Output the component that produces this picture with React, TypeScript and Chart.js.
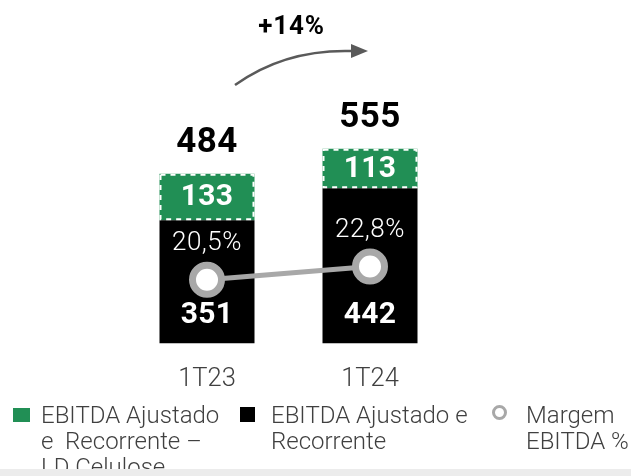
import React, { useEffect, useRef } from "react";
import { Chart, registerables } from "chart.js";

Chart.register(...registerables);

const categories = ["1T23", "1T24"];
const recorrente = [351, 442];
const celulose = [133, 113];
const margem = [20.5, 22.8];
const growthLabel = "+14%";
const legendCelulose = ["EBITDA Ajustado", "e\u00a0 Recorrente \u2013", "LD Celulose"];
const legendRecorrente = ["EBITDA Ajustado e", "Recorrente"];
const legendMargem = ["Margem", "EBITDA %"];

const GREEN = "#218f55";
const GRAY = "#a8a8a8";
const TEXT = "#404040";
const FONT = "Roboto, 'Noto Sans', sans-serif";

const fmtPct = (v: number) => v.toFixed(1).replace(".", ",") + "%";

const labelsPlugin = {
  id: "customLabels",
  afterDatasetsDraw(chart: any) {
    const ctx = chart.ctx;
    const blackMeta = chart.getDatasetMeta(0);
    const greenMeta = chart.getDatasetMeta(1);
    const lineMeta = chart.getDatasetMeta(2);
    const area = chart.chartArea;
    ctx.save();
    // dashed borders around green segments
    greenMeta.data.forEach((el: any) => {
      const w = el.width;
      const left = el.x - w / 2;
      const top = el.y;
      const h = el.base - el.y;
      ctx.strokeStyle = "#ffffff";
      ctx.lineWidth = 2;
      ctx.setLineDash([5, 5]);
      ctx.strokeRect(left + 1, top + 1, w - 2, h - 2);
    });
    ctx.setLineDash([]);
    ctx.textAlign = "center";
    categories.forEach((_, i) => {
      const b = blackMeta.data[i] as any;
      const g = greenMeta.data[i] as any;
      ctx.fillStyle = "#ffffff";
      ctx.font = `bold 30px ${FONT}`;
      (ctx as any).letterSpacing = "0.3px";
      ctx.textBaseline = "middle";
      ctx.fillText(String(recorrente[i]), b.x, b.base - 28);
      ctx.fillText(String(celulose[i]), g.x, (g.y + g.base) / 2 + 1);
      ctx.fillStyle = "#000000";
      ctx.font = `bold 35px ${FONT}`;
      (ctx as any).letterSpacing = "0.5px";
      ctx.textBaseline = "alphabetic";
      ctx.fillText(String(recorrente[i] + celulose[i]), g.x, g.y - 22);
    });
    // percent labels
    lineMeta.data.forEach((p: any, i: number) => {
      ctx.fillStyle = "#ffffff";
      ctx.font = `300 26px ${FONT}`;
      (ctx as any).letterSpacing = "0.5px";
      ctx.textBaseline = "middle";
      ctx.fillText(fmtPct(margem[i]), p.x, p.y - 36);
    });
    // growth arrow
    const x1 = (blackMeta.data[0] as any).x;
    const x2 = (blackMeta.data[1] as any).x;
    const sx = x1 + 28;
    const sy = area.top + 45;
    const ex = x2 - 18;
    const ey = area.top + 11;
    ctx.strokeStyle = "#5a5a5a";
    ctx.fillStyle = "#5a5a5a";
    ctx.lineWidth = 2.5;
    ctx.beginPath();
    ctx.moveTo(sx, sy);
    ctx.quadraticCurveTo(sx + 50, ey - 2, ex, ey);
    ctx.stroke();
    ctx.beginPath();
    ctx.moveTo(ex + 16, ey);
    ctx.lineTo(ex - 1, ey - 7);
    ctx.lineTo(ex - 1, ey + 7);
    ctx.closePath();
    ctx.fill();
    ctx.fillStyle = "#000000";
    ctx.font = `bold 26px ${FONT}`;
    (ctx as any).letterSpacing = "0.8px";
    ctx.textBaseline = "middle";
    ctx.fillText(growthLabel, (x1 + x2) / 2 + 3, area.top - 13);
    ctx.restore();
  },
};

export default function App() {
  const ref = useRef<HTMLCanvasElement | null>(null);
  useEffect(() => {
    if (!ref.current) return;
    const chart = new Chart(ref.current, {
      type: "bar",
      data: {
        labels: categories,
        datasets: [
          {
            type: "bar",
            label: legendRecorrente.join(" "),
            data: recorrente,
            backgroundColor: "#000000",
            stack: "s",
            order: 1,
          } as any,
          {
            type: "bar",
            label: legendCelulose.join(" "),
            data: celulose,
            backgroundColor: GREEN,
            stack: "s",
            order: 1,
          } as any,
          {
            type: "line",
            label: legendMargem.join(" "),
            data: margem,
            yAxisID: "y1",
            borderColor: GRAY,
            borderWidth: 5,
            pointRadius: 14.5,
            pointBorderWidth: 7,
            pointBackgroundColor: "#ffffff",
            pointBorderColor: GRAY,
            order: 0,
          } as any,
        ],
      },
      options: {
        animation: false,
        responsive: false,
        maintainAspectRatio: false,
        layout: { padding: { left: 125.5, right: 179.5, top: 40, bottom: 60 } },
        datasets: { bar: { barPercentage: 1, categoryPercentage: 95 / 163 } } as any,
        plugins: { legend: { display: false }, tooltip: { enabled: false } },
        scales: {
          x: {
            stacked: true,
            grid: { display: false, drawTicks: false },
            border: { display: false },
            ticks: { color: TEXT, font: { family: FONT, size: 25.5, weight: "300" as any }, padding: 21 },
          },
          y: { stacked: true, display: false, min: 0, max: 865 },
          y1: { display: false, min: 9.35, max: 62.43 },
        },
      },
      plugins: [labelsPlugin],
    });
    return () => chart.destroy();
  }, []);

  const textStyle: React.CSSProperties = {
    position: "absolute",
    fontFamily: FONT,
    fontWeight: 300,
    fontSize: 24,
    lineHeight: "26px",
    color: TEXT,
    whiteSpace: "pre",
  };

  return (
    <div style={{ position: "absolute", left: 0, top: 0, width: 631, height: 476, background: "#fff", overflow: "hidden" }}>
      <canvas ref={ref} width={631} height={476} style={{ position: "absolute", left: 0, top: 0 }} />
      <div style={{ position: "absolute", left: 13, top: 408, width: 17, height: 14, background: GREEN }} />
      <div style={{ ...textStyle, left: 41, top: 402 }}>
        {legendCelulose.map((t) => (
          <div key={t}>{t}</div>
        ))}
      </div>
      <div style={{ position: "absolute", left: 240, top: 407, width: 15, height: 15, background: "#000" }} />
      <div style={{ ...textStyle, left: 271, top: 402 }}>
        {legendRecorrente.map((t) => (
          <div key={t}>{t}</div>
        ))}
      </div>
      <div
        style={{
          position: "absolute",
          left: 492,
          top: 405,
          width: 9,
          height: 9,
          borderRadius: "50%",
          border: `3.5px solid ${GRAY}`,
          background: "#fff",
        }}
      />
      <div style={{ ...textStyle, left: 526, top: 402 }}>
        {legendMargem.map((t) => (
          <div key={t}>{t}</div>
        ))}
      </div>
      <div style={{ position: "absolute", left: 0, top: 469, width: 631, height: 7, background: "#ececec" }} />
    </div>
  );
}
